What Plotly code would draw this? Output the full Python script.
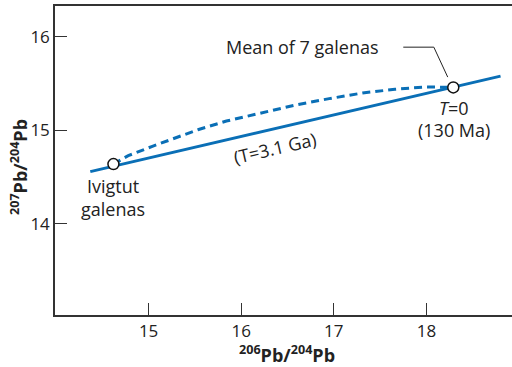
import plotly.graph_objects as go

# Data
iso_x = [14.37, 18.80]          # solid line (isochron) endpoints
iso_y = [14.56, 15.58]
curve_x = [14.62, 14.78, 15.04, 15.32, 15.54, 15.84, 16.25, 16.58, 16.95, 17.31, 17.66, 18.00, 18.29]
curve_y = [14.64, 14.73, 14.83, 14.93, 15.01, 15.10, 15.19, 15.27, 15.34, 15.40, 15.44, 15.465, 15.46]
pts_x = [14.62, 18.29]
pts_y = [14.64, 15.46]
leader_x = [17.75, 18.08, 18.23]
leader_y = [15.89, 15.89, 15.57]
x_ticks = [15, 16, 17, 18]
y_ticks = [14, 15, 16]

BLUE = "#0a6fb6"
DARK = "#333333"
FONT = "Open Sans"

fig = go.Figure()
fig.add_trace(go.Scatter(x=curve_x, y=curve_y, mode="lines",
                         line=dict(color=BLUE, width=3, dash="8px,5px"),
                         hoverinfo="skip"))
fig.add_trace(go.Scatter(x=iso_x, y=iso_y, mode="lines",
                         line=dict(color=BLUE, width=3), hoverinfo="skip"))
fig.add_trace(go.Scatter(x=leader_x, y=leader_y, mode="lines",
                         line=dict(color="#222222", width=1), hoverinfo="skip"))
fig.add_trace(go.Scatter(x=pts_x, y=pts_y, mode="markers",
                         marker=dict(size=11, color="white", line=dict(color="#111111", width=1.5)),
                         hoverinfo="skip"))

ann_font = dict(family=FONT, size=18, color="#222222")
annots = [
    dict(x=16.66, y=15.89, text="Mean of 7 galenas"),
    dict(x=18.30, y=15.235, text="<i>T</i>=0"),
    dict(x=18.30, y=15.0, text="(130 Ma)"),
    dict(x=16.36, y=14.81, text="(T=3.1 Ga)", textangle=-13),
    dict(x=14.61, y=14.28, text="Ivigtut<br>galenas"),
]
for a in annots:
    fig.add_annotation(xref="x", yref="y", showarrow=False, font=ann_font,
                       xanchor="center", yanchor="middle", **a)

fig.add_annotation(xref="paper", yref="paper", x=(287-55)/457, y=(315-354)/309,
                   xanchor="center", yanchor="middle",
                   text="<b><sup>206</sup>Pb/<sup>204</sup>Pb</b>", showarrow=False,
                   font=dict(family=FONT, size=18, color="#222222"))
fig.add_annotation(xref="paper", yref="paper", x=(19-55)/457, y=(315-167)/309,
                   xanchor="center", yanchor="middle",
                   text="<b><sup>207</sup>Pb/<sup>204</sup>Pb</b>", showarrow=False, textangle=-90,
                   font=dict(family=FONT, size=18, color="#222222"))

axis_common = dict(showgrid=False, zeroline=False, showline=True, linecolor=DARK, linewidth=1.5,
                   ticks="inside", ticklen=12, tickwidth=1.3, tickcolor=DARK,
                   tickfont=dict(family=FONT, size=17, color="#222222"))
fig.update_xaxes(range=[13.989, 18.924], tickvals=x_ticks, mirror=True, **axis_common)
fig.update_yaxes(range=[13.027, 16.33], tickvals=y_ticks, **axis_common)

fig.update_layout(width=512, height=367, margin=dict(l=55, r=0, t=6, b=52),
                  plot_bgcolor="white", paper_bgcolor="white", showlegend=False)

fig.write_html("out.html", config={"displayModeBar": False},
               post_script="document.body.style.margin='0';")
